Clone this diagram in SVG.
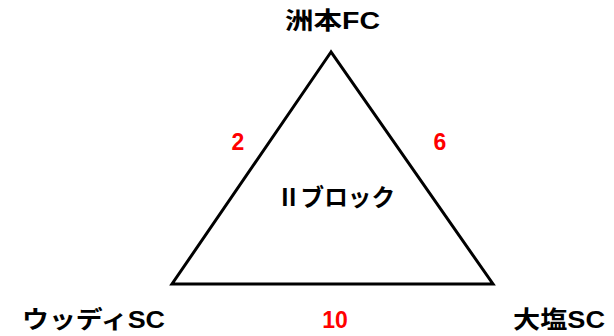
<svg xmlns="http://www.w3.org/2000/svg" width="614" height="336" viewBox="0 0 614 336">
<style>
.lbl{font-family:"Liberation Sans","Noto Sans CJK JP",sans-serif;font-weight:bold;font-size:24px;fill:#000}
.num{font-family:"Liberation Sans","Noto Sans CJK JP",sans-serif;font-weight:bold;font-size:23px;fill:#ff0000}
</style>
<rect width="614" height="336" fill="#fff"/>
<g id="connectors">
<polygon points="331,52 172,284 493,284" fill="none" stroke="#000" stroke-width="3" stroke-linejoin="miter"/>
</g>
<g id="sumoto"><text class="lbl" x="285" y="29" textLength="95" lengthAdjust="spacingAndGlyphs">洲本FC</text></g>
<g id="woody"><text class="lbl" x="22" y="328" textLength="143" lengthAdjust="spacingAndGlyphs">ウッディSC</text></g>
<g id="oshio"><text class="lbl" x="513" y="328" textLength="92" lengthAdjust="spacingAndGlyphs">大塩SC</text></g>
<g id="block"><text class="lbl" x="277" y="206" textLength="118" lengthAdjust="spacingAndGlyphs">Ⅱブロック</text></g>
<g id="n2"><text class="num" x="238" y="150" text-anchor="middle">2</text></g>
<g id="n6"><text class="num" x="440" y="150" text-anchor="middle">6</text></g>
<g id="n10"><text class="num" x="335" y="328" text-anchor="middle">10</text></g>
</svg>
